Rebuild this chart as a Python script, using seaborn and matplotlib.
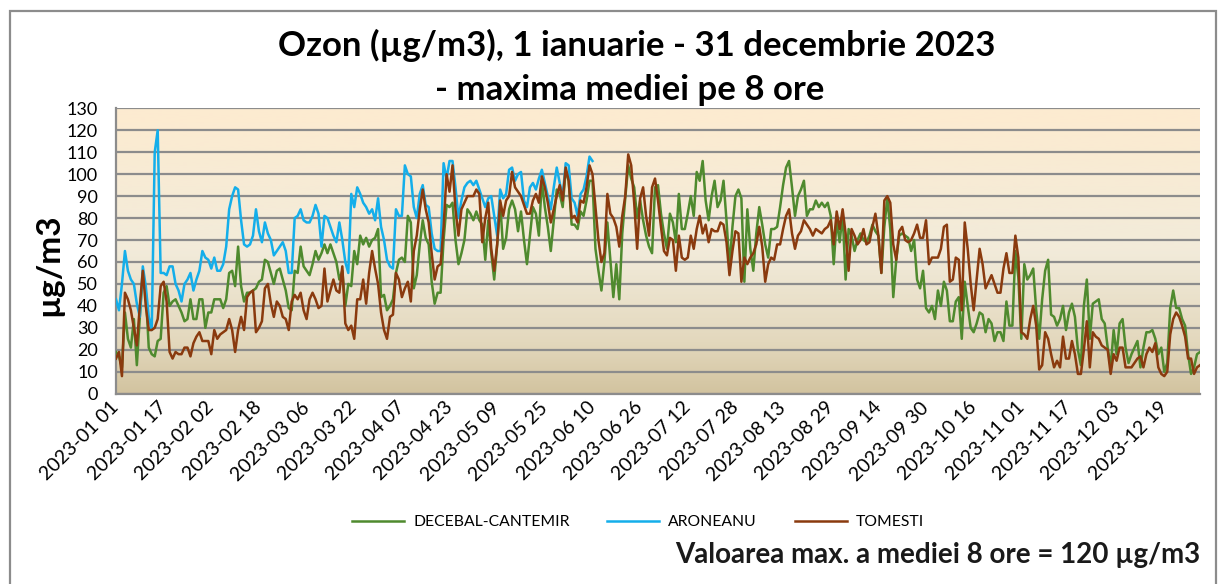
import numpy as np
import pandas as pd
import matplotlib
matplotlib.use("Agg")
import matplotlib.pyplot as plt
import seaborn as sns
from matplotlib.colors import LinearSegmentedColormap
from matplotlib.patches import Rectangle
from matplotlib.lines import Line2D

plt.rcParams['font.family'] = ['Lato', 'DejaVu Sans']

# ---------------- data (daily max 8h mean, µg/m3) ----------------
decebal = [
    19, 17, 12, 37, 25, 21, 34, 13, 35, 55,
    46, 21, 18, 17, 24, 25, 46, 49, 40, 42,
    43, 40, 37, 33, 34, 43, 34, 34, 43, 43,
    30, 37, 37, 43, 43, 43, 39, 43, 55, 56,
    49, 67, 49, 42, 46, 46, 47, 48, 51, 52,
    61, 60, 55, 50, 56, 57, 52, 47, 39, 38,
    56, 55, 67, 58, 56, 54, 59, 65, 61, 64,
    68, 64, 68, 64, 60, 52, 56, 40, 50, 49,
    65, 59, 72, 68, 71, 67, 70, 71, 75, 44,
    45, 38, 40, 43, 55, 61, 62, 60, 81, 78,
    48, 54, 68, 79, 71, 68, 51, 41, 46, 46,
    70, 86, 85, 87, 70, 59, 64, 70, 84, 82,
    79, 83, 79, 77, 61, 79, 64, 52, 68, 87,
    66, 71, 84, 88, 84, 74, 83, 70, 59, 72,
    85, 82, 72, 97, 85, 76, 65, 79, 93, 91,
    85, 102, 97, 77, 77, 75, 83, 81, 88, 97,
    97, 66, 56, 47, 60, 78, 61, 44, 59, 43,
    73, 89, 104, 98, 94, 80, 88, 79, 72, 67,
    64, 94, 95, 82, 73, 66, 82, 78, 69, 91,
    75, 75, 82, 90, 81, 101, 97, 106, 88, 79,
    90, 97, 85, 88, 97, 79, 58, 76, 90, 93,
    89, 51, 84, 66, 56, 73, 85, 77, 68, 62,
    75, 75, 76, 85, 95, 103, 106, 94, 81, 90,
    93, 97, 81, 84, 84, 88, 85, 87, 85, 87,
    81, 59, 79, 69, 82, 52, 75, 72, 65, 70,
    73, 70, 69, 72, 77, 74, 72, 55, 76, 89,
    75, 44, 61, 72, 73, 72, 71, 65, 70, 52,
    48, 56, 39, 37, 40, 34, 47, 40, 51, 47,
    33, 33, 42, 44, 25, 51, 40, 30, 28, 32,
    37, 36, 28, 34, 32, 24, 28, 28, 24, 42,
    31, 31, 65, 53, 25, 59, 52, 54, 57, 38,
    25, 43, 56, 61, 36, 35, 31, 34, 40, 29,
    37, 41, 35, 20, 13, 40, 52, 25, 41, 42,
    43, 34, 32, 21, 12, 29, 18, 32, 34, 21,
    14, 18, 21, 24, 12, 21, 28, 28, 29, 25,
    18, 21, 10, 14, 39, 47, 39, 39, 34, 31,
    18, 9, 12, 18, 19,
]

aroneanu = [
    43, 38, 50, 65, 56, 52, 50, 41, 35, 58,
    49, 35, 29, 110, 120, 55, 55, 54, 58, 58,
    50, 47, 42, 50, 52, 55, 47, 52, 56, 65,
    62, 61, 57, 62, 56, 56, 59, 67, 84, 90,
    94, 93, 79, 68, 67, 68, 72, 84, 74, 69,
    78, 73, 70, 63, 65, 67, 69, 65, 55, 55,
    80, 81, 84, 79, 78, 78, 81, 86, 82, 67,
    81, 80, 76, 72, 69, 78, 70, 60, 55, 91,
    85, 94, 91, 87, 85, 82, 84, 79, 89, 76,
    70, 61, 58, 57, 84, 81, 81, 104, 100, 99,
    85, 80, 91, 95, 86, 85, 73, 66, 65, 65,
    105, 98, 106, 106, 94, 80, 88, 94, 96, 97,
    95, 97, 93, 89, 85, 89, 90, 81, 72, 93,
    89, 91, 102, 103, 97, 100, 101, 88, 85, 94,
    96, 93, 98, 102, 96, 90, 84, 94, 103, 96,
    90, 105, 104, 89, 87, 81, 91, 93, 99, 108,
    106,
]

tomesti = [
    16, 19, 8, 46, 43, 38, 30, 22, 40, 56,
    40, 29, 29, 30, 34, 49, 51, 42, 19, 16,
    19, 18, 18, 21, 21, 17, 23, 26, 28, 24,
    24, 24, 18, 29, 25, 27, 28, 29, 34, 29,
    19, 29, 35, 29, 44, 46, 47, 28, 30, 33,
    48, 50, 41, 35, 42, 40, 35, 34, 29, 42,
    45, 43, 46, 38, 34, 43, 46, 43, 39, 40,
    57, 42, 47, 52, 47, 46, 58, 32, 29, 31,
    25, 43, 43, 52, 41, 55, 65, 57, 50, 37,
    29, 25, 35, 36, 55, 52, 44, 48, 51, 42,
    65, 72, 84, 93, 84, 78, 64, 52, 58, 59,
    76, 100, 92, 104, 84, 72, 84, 87, 90, 90,
    90, 93, 91, 69, 80, 87, 66, 56, 68, 88,
    81, 88, 90, 101, 94, 92, 90, 86, 82, 82,
    88, 91, 87, 99, 94, 87, 78, 84, 90, 95,
    88, 103, 97, 80, 81, 78, 88, 87, 94, 104,
    100, 85, 70, 60, 64, 91, 82, 80, 76, 67,
    81, 90, 109, 104, 87, 66, 89, 94, 81, 72,
    94, 98, 88, 76, 65, 63, 71, 70, 56, 72,
    62, 61, 62, 72, 66, 75, 81, 73, 77, 69,
    75, 74, 74, 78, 77, 69, 54, 65, 74, 73,
    51, 62, 59, 62, 64, 68, 76, 67, 51, 59,
    62, 61, 68, 68, 75, 81, 84, 73, 66, 72,
    74, 79, 77, 75, 72, 75, 74, 73, 75, 76,
    79, 68, 83, 75, 84, 73, 56, 75, 72, 68,
    70, 75, 68, 69, 76, 82, 72, 55, 88, 90,
    87, 68, 61, 74, 76, 70, 69, 70, 73, 77,
    71, 71, 79, 59, 62, 62, 62, 66, 76, 77,
    51, 52, 62, 61, 38, 78, 66, 50, 38, 52,
    66, 59, 48, 51, 54, 50, 46, 46, 57, 64,
    55, 55, 72, 62, 28, 27, 25, 34, 40, 31,
    11, 13, 28, 25, 18, 12, 15, 12, 26, 16,
    16, 24, 18, 9, 9, 20, 33, 12, 28, 26,
    25, 22, 21, 20, 9, 18, 15, 21, 21, 12,
    12, 12, 14, 16, 17, 12, 18, 21, 19, 23,
    12, 9, 8, 10, 27, 34, 37, 35, 31, 26,
    16, 16, 9, 12, 13,
]

stations = ["DECEBAL-CANTEMIR", "ARONEANU", "TOMESTI"]
colors = ["#4F8A2E", "#14AEEA", "#8A3A0E"]

tick_labels = ["2023-01 01", "2023-01 17", "2023-02 02", "2023-02 18", "2023-03 06",
               "2023-03 22", "2023-04 07", "2023-04 23", "2023-05 09", "2023-05 25",
               "2023-06 10", "2023-06 26", "2023-07 12", "2023-07 28", "2023-08 13",
               "2023-08 29", "2023-09 14", "2023-09 30", "2023-10 16", "2023-11 01",
               "2023-11 17", "2023-12 03", "2023-12 19"]

n_days = len(decebal)
days = np.arange(n_days)
aron_full = np.full(n_days, np.nan)
aron_full[:len(aroneanu)] = aroneanu

frames = []
for name, vals in zip(stations, [decebal, aron_full, tomesti]):
    frames.append(pd.DataFrame({"day": days, "value": np.asarray(vals, dtype=float), "station": name}))
df = pd.concat(frames, ignore_index=True).dropna()

# ---------------- figure ----------------
W, H = 1226, 584
fig = plt.figure(figsize=(W / 100, H / 100), dpi=100)
ax = fig.add_axes([116 / W, 1 - 393.7 / H, (1200 - 116) / W, (393.7 - 108.3) / H])

# gradient background of plot area
cmap = LinearSegmentedColormap.from_list(
    "bg", [(0.0, "#D2C39F"), (0.18, "#E3D8BD"), (0.5, "#F2EBDA"), (1.0, "#FDEBD0")])
grad = np.linspace(0, 1, 256).reshape(-1, 1)
ax.imshow(grad, extent=[0, n_days - 1, 0, 130], aspect="auto", cmap=cmap,
          origin="lower", zorder=0, interpolation="bicubic")

sns.lineplot(data=df, x="day", y="value", hue="station", hue_order=stations,
             palette=dict(zip(stations, colors)), linewidth=1.8, legend=False,
             ax=ax, zorder=3)

ax.set_xlim(0, n_days - 1)
ax.set_ylim(0, 130)
ax.set_yticks(range(0, 131, 10))
ax.set_xticks(range(0, n_days, 16))
ax.set_xticklabels(tick_labels, rotation=45, ha="right", va="center",
                   rotation_mode="anchor", fontsize=14)
ax.tick_params(axis="y", labelsize=13, length=0, pad=13)
ax.tick_params(axis="x", length=0, pad=8)
ax.set_xlabel("")
ax.set_ylabel("")
ax.grid(axis="y", color="#8C8C8C", linewidth=1.6, zorder=1)
ax.grid(axis="x", visible=False)
ax.set_axisbelow("line")
for s in ["top", "right"]:
    ax.spines[s].set_visible(False)
for s in ["left", "bottom"]:
    ax.spines[s].set_color("#8C8C8C")
    ax.spines[s].set_linewidth(1.6)

# titles and labels
fig.text(637 / W, 1 - 45 / H, "Ozon (µg/m3), 1 ianuarie - 31 decembrie 2023",
         ha="center", va="center", fontsize=25, fontweight="bold")
fig.text(630 / W, 1 - 90 / H, "- maxima mediei pe 8 ore",
         ha="center", va="center", fontsize=25, fontweight="bold")
fig.text(49 / W, 1 - 265 / H, "µg/m3", rotation=90, ha="center", va="center",
         fontsize=24, fontweight="bold")

handles = [Line2D([0], [0], color=c, lw=1.8) for c in colors]
fig.legend(handles, stations, loc="center", bbox_to_anchor=(638 / W, 1 - 522 / H),
           ncol=3, frameon=False, fontsize=11.3, handlelength=3.3,
           columnspacing=2.4, handletextpad=0.6)

fig.text(1200 / W, 1 - 555 / H, "Valoarea max. a mediei 8 ore = 120 µg/m3",
         ha="right", va="center", fontsize=20, fontweight="bold", color="#1A1A1A")

fig.add_artist(Rectangle((10 / W, -0.05), (1216 - 10) / W, 1.05 - 11 / H,
                         transform=fig.transFigure, fill=False,
                         edgecolor="#8C8C8C", linewidth=1.6))

fig.savefig("out.png", dpi=100)
